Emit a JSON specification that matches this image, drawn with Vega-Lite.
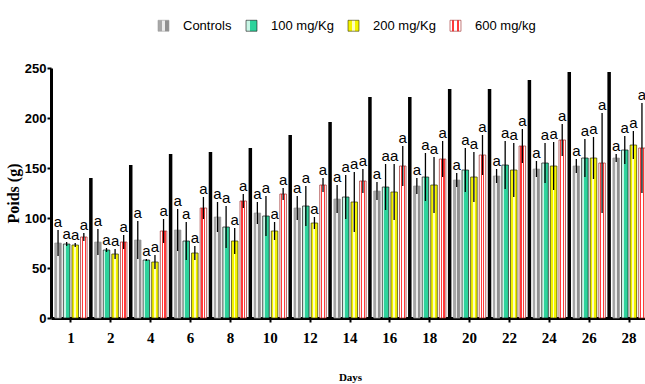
{
  "$schema": "https://vega.github.io/schema/vega-lite/v6.json",
  "width": 594,
  "height": 250,
  "autosize": {"type": "none"},
  "padding": {"left": 51, "top": 68, "right": 0, "bottom": 66},
  "background": "white",
  "config": {"view": {"stroke": null}},
  "datasets": {
    "weights": [
      {"day": "1", "group": "Controls", "mean": 75, "lo": 62, "hi": 88},
      {"day": "1", "group": "100 mg/Kg", "mean": 74, "lo": 72, "hi": 76},
      {"day": "1", "group": "200 mg/Kg", "mean": 73, "lo": 71, "hi": 75},
      {"day": "1", "group": "600 mg/kg", "mean": 81, "lo": 77, "hi": 85},
      {"day": "2", "group": "Controls", "mean": 76, "lo": 63, "hi": 89},
      {"day": "2", "group": "100 mg/Kg", "mean": 68, "lo": 66, "hi": 70},
      {"day": "2", "group": "200 mg/Kg", "mean": 64, "lo": 59, "hi": 69},
      {"day": "2", "group": "600 mg/kg", "mean": 76, "lo": 69, "hi": 83},
      {"day": "4", "group": "Controls", "mean": 78, "lo": 59, "hi": 97},
      {"day": "4", "group": "100 mg/Kg", "mean": 58, "lo": 57, "hi": 59},
      {"day": "4", "group": "200 mg/Kg", "mean": 56, "lo": 49, "hi": 63},
      {"day": "4", "group": "600 mg/kg", "mean": 87, "lo": 75, "hi": 99},
      {"day": "6", "group": "Controls", "mean": 88, "lo": 67, "hi": 109},
      {"day": "6", "group": "100 mg/Kg", "mean": 77, "lo": 58, "hi": 96},
      {"day": "6", "group": "200 mg/Kg", "mean": 65, "lo": 58, "hi": 72},
      {"day": "6", "group": "600 mg/kg", "mean": 110, "lo": 99, "hi": 121},
      {"day": "8", "group": "Controls", "mean": 101, "lo": 86, "hi": 116},
      {"day": "8", "group": "100 mg/Kg", "mean": 91, "lo": 70, "hi": 112},
      {"day": "8", "group": "200 mg/Kg", "mean": 77, "lo": 64, "hi": 90},
      {"day": "8", "group": "600 mg/kg", "mean": 117, "lo": 110, "hi": 124},
      {"day": "10", "group": "Controls", "mean": 105, "lo": 94, "hi": 116},
      {"day": "10", "group": "100 mg/Kg", "mean": 102, "lo": 82, "hi": 122},
      {"day": "10", "group": "200 mg/Kg", "mean": 87, "lo": 78, "hi": 96},
      {"day": "10", "group": "600 mg/kg", "mean": 124, "lo": 118, "hi": 130},
      {"day": "12", "group": "Controls", "mean": 110, "lo": 98, "hi": 122},
      {"day": "12", "group": "100 mg/Kg", "mean": 112, "lo": 92, "hi": 132},
      {"day": "12", "group": "200 mg/Kg", "mean": 95, "lo": 89, "hi": 101},
      {"day": "12", "group": "600 mg/kg", "mean": 133, "lo": 126, "hi": 140},
      {"day": "14", "group": "Controls", "mean": 119, "lo": 105, "hi": 133},
      {"day": "14", "group": "100 mg/Kg", "mean": 121, "lo": 99, "hi": 143},
      {"day": "14", "group": "200 mg/Kg", "mean": 116, "lo": 86, "hi": 146},
      {"day": "14", "group": "600 mg/kg", "mean": 137, "lo": 125, "hi": 149},
      {"day": "16", "group": "Controls", "mean": 127, "lo": 118, "hi": 136},
      {"day": "16", "group": "100 mg/Kg", "mean": 131, "lo": 108, "hi": 154},
      {"day": "16", "group": "200 mg/Kg", "mean": 126, "lo": 98, "hi": 154},
      {"day": "16", "group": "600 mg/kg", "mean": 152, "lo": 132, "hi": 172},
      {"day": "18", "group": "Controls", "mean": 132, "lo": 124, "hi": 140},
      {"day": "18", "group": "100 mg/Kg", "mean": 141, "lo": 117, "hi": 165},
      {"day": "18", "group": "200 mg/Kg", "mean": 133, "lo": 105, "hi": 161},
      {"day": "18", "group": "600 mg/kg", "mean": 159, "lo": 141, "hi": 177},
      {"day": "20", "group": "Controls", "mean": 138, "lo": 131, "hi": 145},
      {"day": "20", "group": "100 mg/Kg", "mean": 148, "lo": 126, "hi": 170},
      {"day": "20", "group": "200 mg/Kg", "mean": 141, "lo": 116, "hi": 166},
      {"day": "20", "group": "600 mg/kg", "mean": 163, "lo": 143, "hi": 183},
      {"day": "22", "group": "Controls", "mean": 142, "lo": 135, "hi": 149},
      {"day": "22", "group": "100 mg/Kg", "mean": 153, "lo": 129, "hi": 177},
      {"day": "22", "group": "200 mg/Kg", "mean": 148, "lo": 121, "hi": 175},
      {"day": "22", "group": "600 mg/kg", "mean": 172, "lo": 155, "hi": 189},
      {"day": "24", "group": "Controls", "mean": 149, "lo": 141, "hi": 157},
      {"day": "24", "group": "100 mg/Kg", "mean": 155, "lo": 135, "hi": 175},
      {"day": "24", "group": "200 mg/Kg", "mean": 152, "lo": 128, "hi": 176},
      {"day": "24", "group": "600 mg/kg", "mean": 178, "lo": 162, "hi": 194},
      {"day": "26", "group": "Controls", "mean": 152, "lo": 145, "hi": 159},
      {"day": "26", "group": "100 mg/Kg", "mean": 160, "lo": 141, "hi": 179},
      {"day": "26", "group": "200 mg/Kg", "mean": 160, "lo": 139, "hi": 181},
      {"day": "26", "group": "600 mg/kg", "mean": 155, "lo": 105, "hi": 205},
      {"day": "28", "group": "Controls", "mean": 160, "lo": 156, "hi": 164},
      {"day": "28", "group": "100 mg/Kg", "mean": 168, "lo": 154, "hi": 182},
      {"day": "28", "group": "200 mg/Kg", "mean": 173, "lo": 159, "hi": 187},
      {"day": "28", "group": "600 mg/kg", "mean": 170, "lo": 125, "hi": 215}
    ],
    "separators": [
      {"day": "1", "top": 140},
      {"day": "2", "top": 153},
      {"day": "4", "top": 164},
      {"day": "6", "top": 166},
      {"day": "8", "top": 170},
      {"day": "10", "top": 183},
      {"day": "12", "top": 196},
      {"day": "14", "top": 221},
      {"day": "16", "top": 221},
      {"day": "18", "top": 229},
      {"day": "20", "top": 229},
      {"day": "22", "top": 238},
      {"day": "24", "top": 246},
      {"day": "26", "top": 246}
    ]
  },
  "encoding": {
    "x": {
      "field": "day",
      "type": "ordinal",
      "sort": null,
      "title": "Days",
      "scale": {
        "domain": ["1", "2", "4", "6", "8", "10", "12", "14", "16", "18", "20", "22", "24", "26", "28"],
        "range": [0, 598],
        "paddingInner": 0,
        "paddingOuter": 0
      },
      "axis": {
        "domainWidth": 3,
        "domainColor": "black",
        "tickWidth": 2,
        "tickSize": 4,
        "tickColor": "black",
        "labelAngle": 0,
        "labelFont": "Liberation Serif",
        "labelFontWeight": "bold",
        "labelFontSize": 15,
        "labelColor": "black",
        "labelPadding": 8,
        "titleFont": "Liberation Serif",
        "titleFontWeight": "bold",
        "titleFontSize": 11,
        "titleColor": "black",
        "titlePadding": 26,
        "grid": false
      }
    }
  },
  "layer": [
    {
      "data": {"name": "weights"},
      "mark": {"type": "bar", "strokeWidth": 0.7},
      "encoding": {
        "xOffset": {
          "field": "group",
          "type": "nominal",
          "sort": null,
          "scale": {
            "domain": ["Controls", "100 mg/Kg", "200 mg/Kg", "600 mg/kg"],
            "paddingInner": 0.24,
            "paddingOuter": 0.44
          }
        },
        "y": {
          "field": "mean",
          "type": "quantitative",
          "stack": null,
          "title": "Poids (g)",
          "scale": {"domain": [0, 250], "nice": false},
          "axis": {
            "values": [0, 50, 100, 150, 200, 250],
            "domainWidth": 3,
            "domainColor": "black",
            "tickWidth": 2,
            "tickSize": 4,
            "tickColor": "black",
            "labelFont": "Liberation Sans",
            "labelFontWeight": "bold",
            "labelFontSize": 13,
            "labelColor": "black",
            "labelPadding": 1,
            "titleFont": "Liberation Serif",
            "titleFontWeight": "bold",
            "titleFontSize": 16,
            "titleColor": "black",
            "titlePadding": 3,
            "grid": false
          }
        },
        "color": {
          "field": "group",
          "type": "nominal",
          "sort": null,
          "scale": {
            "domain": ["Controls", "100 mg/Kg", "200 mg/Kg", "600 mg/kg"],
            "range": [
              {"expr": "{gradient:'linear',x1:0,y1:0,x2:1,y2:0,stops:[{offset:0,color:'#a8a8a8'},{offset:0.33,color:'#a8a8a8'},{offset:0.33,color:'#ececec'},{offset:0.62,color:'#ececec'},{offset:0.62,color:'#909090'},{offset:1,color:'#909090'}]}"},
              {"expr": "{gradient:'linear',x1:0,y1:0,x2:1,y2:0,stops:[{offset:0,color:'#c8f6e6'},{offset:0.33,color:'#c8f6e6'},{offset:0.33,color:'#2ed39c'},{offset:1,color:'#2ed39c'}]}"},
              {"expr": "{gradient:'linear',x1:0,y1:0,x2:1,y2:0,stops:[{offset:0,color:'#f4f400'},{offset:0.33,color:'#f4f400'},{offset:0.33,color:'#fdfdc0'},{offset:0.62,color:'#fdfdc0'},{offset:0.62,color:'#f4f400'},{offset:1,color:'#f4f400'}]}"},
              {"expr": "{gradient:'linear',x1:0,y1:0,x2:1,y2:0,stops:[{offset:0,color:'#ffffff'},{offset:0.2,color:'#ffffff'},{offset:0.2,color:'#ff3a3a'},{offset:0.38,color:'#ff3a3a'},{offset:0.38,color:'#ffffff'},{offset:0.62,color:'#ffffff'},{offset:0.62,color:'#ff3a3a'},{offset:0.8,color:'#ff3a3a'},{offset:0.8,color:'#ffffff'},{offset:1,color:'#ffffff'}]}"}
            ]
          },
          "legend": {
            "orient": "none",
            "legendX": 106,
            "legendY": -49,
            "direction": "horizontal",
            "title": null,
            "padding": 0,
            "symbolType": "square",
            "symbolSize": 120,
            "symbolStrokeColor": "#555555",
            "symbolStrokeWidth": 0.6,
            "labelFont": "Liberation Sans",
            "labelFontSize": 13,
            "labelColor": "black",
            "labelOffset": 13,
            "columnPadding": 12
          }
        },
        "stroke": {
          "field": "group",
          "type": "nominal",
          "sort": null,
          "scale": {
            "domain": ["Controls", "100 mg/Kg", "200 mg/Kg", "600 mg/kg"],
            "range": ["#9a9a9a", "#111111", "#333300", "#992222"]
          },
          "legend": null
        }
      }
    },
    {
      "data": {"name": "weights"},
      "mark": {"type": "rule", "color": "black", "strokeWidth": 1.3},
      "encoding": {
        "xOffset": {"field": "group", "type": "nominal", "sort": null},
        "y": {"field": "lo", "type": "quantitative"},
        "y2": {"field": "hi"}
      }
    },
    {
      "data": {"name": "weights"},
      "mark": {"type": "text", "text": "a", "font": "Liberation Sans", "fontSize": 15, "color": "black", "baseline": "alphabetic", "dy": -3},
      "encoding": {
        "xOffset": {"field": "group", "type": "nominal", "sort": null},
        "y": {"field": "hi", "type": "quantitative"}
      }
    },
    {
      "data": {"name": "separators"},
      "mark": {"type": "rule", "color": "black", "strokeWidth": 3.5},
      "encoding": {
        "x": {"field": "day", "type": "ordinal", "sort": null, "bandPosition": 1},
        "y": {"field": "top", "type": "quantitative"},
        "y2": {"datum": 0}
      }
    }
  ]
}
